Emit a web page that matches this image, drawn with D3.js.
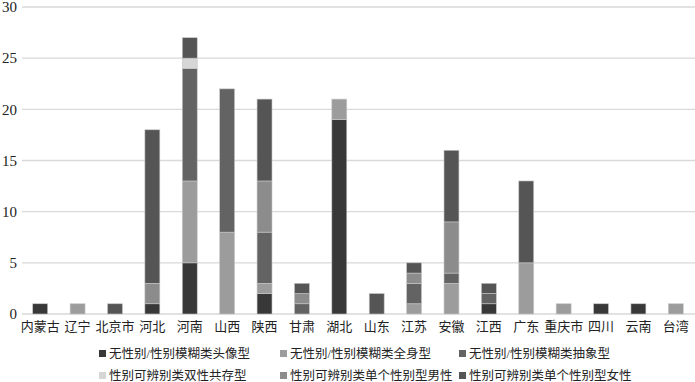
<!DOCTYPE html>
<html><head><meta charset="utf-8">
<script src="https://cdn.jsdelivr.net/npm/d3@7"></script>
<style>body{margin:0;background:#fff}svg{display:block}</style>
</head><body>
<svg id="c" width="695" height="382"></svg>
<script>
const categories = ["内蒙古","辽宁","北京市","河北","河南","山西","陕西","甘肃","湖北","山东","江苏","安徽","江西","广东","重庆市","四川","云南","台湾"];
const seriesNames = ["无性别/性别模糊类头像型","无性别/性别模糊类全身型","无性别/性别模糊类抽象型","性别可辨别类双性共存型","性别可辨别类单个性别型男性","性别可辨别类单个性别型女性"];
const headValues    = [1,0,0,1,5,0,2,0,19,0,0,0,1,0,0,1,1,0];
const bodyValues    = [0,1,0,0,8,8,1,0,2,0,1,3,0,5,1,0,0,1];
const abstractValues= [0,0,0,0,11,14,5,1,0,0,2,1,1,0,0,0,0,0];
const bothValues    = [0,0,0,0,1,0,0,0,0,0,0,0,0,0,0,0,0,0];
const maleValues    = [0,0,0,2,0,0,5,1,0,0,1,5,0,0,0,0,0,0];
const femaleValues  = [0,0,1,15,2,0,8,1,0,2,1,7,1,8,0,0,0,0];
const yTicks = [0,5,10,15,20,25,30];
const colors = ["#383838","#9c9c9c","#636363","#d6d6d6","#8c8c8c","#555555"];

const allSeries = [headValues,bodyValues,abstractValues,bothValues,maleValues,femaleValues];
const rows = categories.map((c,i)=>{const r={cat:c}; allSeries.forEach((s,j)=>r["s"+j]=s[i]); return r;});
const keys = allSeries.map((s,j)=>"s"+j);
const stacked = d3.stack().keys(keys)(rows);

const svg = d3.select("#c");
const x = d3.scaleBand().domain(categories).range([21.5,694.5]).paddingInner(0.6).paddingOuter(0.3);
const y = d3.scaleLinear().domain([0,30]).range([314,7]);

const serif = "'Liberation Serif','Times New Roman','Noto Sans CJK SC',serif";

// grid
svg.append("g").selectAll("line").data(yTicks).join("line")
  .attr("x1",22).attr("x2",695).attr("y1",d=>y(d)).attr("y2",d=>y(d))
  .attr("stroke","#d9d9d9").attr("stroke-width",1.3);

// y axis labels
const yAxis = d3.axisLeft(y).tickValues(yTicks).tickSize(0).tickPadding(0);
const ya = svg.append("g").attr("transform","translate(17,0)").call(yAxis);
ya.select(".domain").remove();
ya.selectAll("text").attr("font-family",serif).attr("font-size",15).attr("fill","#222");

// bars
svg.append("g").selectAll("g").data(stacked).join("g")
  .attr("fill",(d,i)=>colors[i])
  .selectAll("rect").data(d=>d.filter(p=>p[1]-p[0]>0)).join("rect")
  .attr("x",d=>x(d.data.cat)).attr("width",x.bandwidth())
  .attr("y",d=>y(d[1])).attr("height",d=>y(d[0])-y(d[1]))
  .attr("stroke","#c8c8c8").attr("stroke-width",0.6);

// x axis labels
const xAxis = d3.axisBottom(x).tickSize(0).tickPadding(0);
const xa = svg.append("g").attr("transform","translate(0,322)").call(xAxis);
xa.select(".domain").remove();
xa.selectAll("text").attr("font-family",serif).attr("font-size",13).attr("fill","#222").attr("dy","0.7em");

// legend
const legPos = [[99,354],[280,354],[459,354],[99,376],[280,376],[459,376]];
const lg = svg.append("g").selectAll("g").data(seriesNames).join("g")
  .attr("transform",(d,i)=>`translate(${legPos[i][0]},${legPos[i][1]})`);
lg.append("rect").attr("x",0).attr("y",-4).attr("width",7).attr("height",7).attr("fill",(d,i)=>colors[i]);
lg.append("text").attr("x",10).attr("y",0).attr("dy","0.35em").text(d=>d)
  .attr("font-family",serif).attr("font-size",12.5).attr("fill","#222");
</script>
</body></html>
